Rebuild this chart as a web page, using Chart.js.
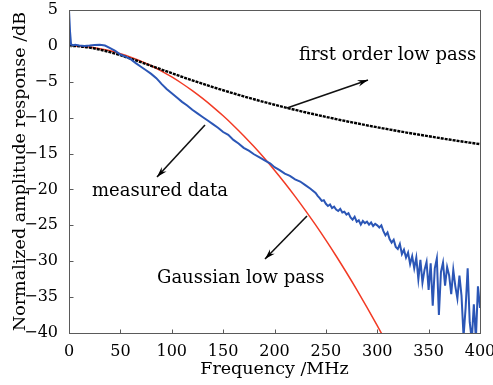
<!DOCTYPE html>
<html>
<head>
<meta charset="utf-8">
<script src="https://cdn.jsdelivr.net/npm/chart.js@4.4.1/dist/chart.umd.min.js"></script>
<style>
  html, body { margin: 0; padding: 0; background: #fff; }
  #wrap { width: 493px; height: 385px; }
</style>
</head>
<body>
<div id="wrap"><canvas id="myChart" width="493" height="385"></canvas></div>
<script>
// tick labels
var xTicks = [0, 50, 100, 150, 200, 250, 300, 350, 400];
var yTicks = [5, 0, -5, -10, -15, -20, -25, -30, -35, -40];

// first order low pass (black)
var firstFreq = [0,10,20,30,40,50,60,70,80,90,100,110,120,130,140,150,160,170,180,190,200,
  210,220,230,240,250,260,270,280,290,300,310,320,330,340,350,360,370,380,390,400];
var firstDb = [0,-0.06,-0.24,-0.52,-0.88,-1.3,-1.77,-2.27,-2.78,-3.29,-3.8,-4.31,-4.8,-5.27,-5.74,-6.18,
  -6.61,-7.03,-7.43,-7.82,-8.2,-8.56,-8.91,-9.25,-9.57,-9.89,-10.2,-10.5,-10.78,-11.07,-11.34,
  -11.6,-11.86,-12.11,-12.35,-12.59,-12.82,-13.05,-13.27,-13.48,-13.69];

// Gaussian low pass (red)
var gaussFreq = [0,10,20,30,40,50,60,70,80,90,100,110,120,130,140,150,160,170,180,190,200,
  210,220,230,240,250,260,270,280,290,300,310];
var gaussDb = [0,-0.04,-0.17,-0.39,-0.69,-1.08,-1.56,-2.12,-2.77,-3.51,-4.33,-5.24,-6.24,-7.32,-8.49,
  -9.74,-11.08,-12.51,-14.03,-15.63,-17.32,-19.1,-20.96,-22.91,-24.94,-27.06,-29.27,-31.57,-33.95,
  -36.42,-38.97,-41.61];

// measured data (blue)
var measFreq = [0,1,2,4,6,10,15,20,25,30,35,40,45,50,55,60,65,70,75,80,85,90,95,100,105,110,115,120,
  125,130,135,140,145,150,155,160,165,170,175,180,185,190,196,200,205,210,215,220,225,230,235,
  240,242,244,246,248,250,252,254,256,258,260,262,264,266,268,270,272,274,276,278,280,282,284,
  286,288,290,292,294,296,298,300,302,304,306,308,310,312,314,316,318,320,322,324,326,328,330,
  332,334,336,338,340,342,344,346,348,350,352,354,356,358,360,362,364,366,368,370,372,374,376,
  378,380,382,384,386,388,390,392,394,396,398,400];
var measDb = [5,2,0.2,0.1,0.15,0.05,0,0.05,0.12,0.15,0.05,-0.3,-0.7,-1.2,-1.5,-1.85,-2.4,-2.9,-3.4,
  -3.9,-4.5,-5.3,-6,-6.6,-7.2,-7.8,-8.3,-8.9,-9.4,-9.9,-10.4,-10.9,-11.4,-12,-12.4,-13.1,-13.6,
  -14.2,-14.6,-15.1,-15.5,-15.9,-16.4,-16.9,-17.3,-17.8,-18.1,-18.6,-18.9,-19.4,-19.9,
  -20.5,-20.9,-21.2,-21.6,-21.5,-22,-22.3,-22.1,-22.6,-22.4,-22.8,-23,-22.7,-23.2,-23.1,-23.5,
  -23.3,-23.9,-24.2,-23.8,-24.5,-24.3,-24.9,-24.4,-24.7,-24.5,-24.9,-24.6,-25.1,-24.8,-25,
  -25.3,-25,-25.8,-26.4,-26,-26.9,-27.4,-27,-28,-28.3,-27.6,-29,-28.4,-29.5,-28.8,-30.4,-29.3,
  -31,-29.5,-32.5,-29.8,-33,-31.2,-30.1,-34,-30.3,-36.2,-31,-29.6,-37.5,-31.5,-30.2,-33.4,-30.8,
  -32,-34.6,-31.2,-33.5,-35.2,-32,-34.8,-40.5,-36.5,-31,-38.5,-41,-36,-40.8,-33.5,-36.5];

function toPoints(xs, ys) {
  var pts = [];
  for (let i = 0; i < xs.length; i++) {
    pts.push({x: xs[i], y: ys[i]});
  }
  return pts;
}

var serif = "'DejaVu Serif', serif";

// frame, inside tick marks, labels and arrows
var decorations = {
  id: "decorations",
  afterDraw: function(chart) {
    var ctx = chart.ctx;
    var a = chart.chartArea;
    var xs = chart.scales.x, ys = chart.scales.y;
    var l = Math.round(a.left) + 0.5, t = Math.round(a.top) + 0.5;
    var r = Math.round(a.right) + 0.5, b = Math.round(a.bottom) + 0.5;
    ctx.save();
    ctx.setLineDash([]);
    ctx.globalAlpha = 1;
    ctx.strokeStyle = "#5a5a5a";
    ctx.lineWidth = 1;
    ctx.strokeRect(l, t, r - l, b - t);
    ctx.beginPath();
    for (let i = 0; i < xTicks.length; i++) {
      var px = Math.round(xs.getPixelForValue(xTicks[i])) + 0.5;
      ctx.moveTo(px, b);
      ctx.lineTo(px, b - 4);
    }
    for (let i = 0; i < yTicks.length; i++) {
      var py = Math.round(ys.getPixelForValue(yTicks[i])) + 0.5;
      ctx.moveTo(l, py);
      ctx.lineTo(l + 4, py);
    }
    ctx.stroke();

    ctx.fillStyle = "#000";
    ctx.font = "18px " + serif;
    ctx.textBaseline = "middle";
    ctx.textAlign = "left";
    ctx.fillText("first order low pass", 299, 55);
    ctx.fillText("measured data", 92, 191);
    ctx.fillText("Gaussian low pass", 157, 278);

    function arrow(x1, y1, x2, y2) {
      ctx.strokeStyle = "#111";
      ctx.lineWidth = 1.6;
      ctx.beginPath();
      ctx.moveTo(x1, y1);
      ctx.lineTo(x2, y2);
      ctx.stroke();
      var ang = Math.atan2(y2 - y1, x2 - x1);
      ctx.beginPath();
      ctx.moveTo(x2, y2);
      ctx.lineTo(x2 - 11 * Math.cos(ang - 0.3), y2 - 11 * Math.sin(ang - 0.3));
      ctx.lineTo(x2 - 7 * Math.cos(ang), y2 - 7 * Math.sin(ang));
      ctx.lineTo(x2 - 11 * Math.cos(ang + 0.3), y2 - 11 * Math.sin(ang + 0.3));
      ctx.closePath();
      ctx.fill();
    }
    arrow(287, 108, 368, 80);
    arrow(205, 125, 157, 177);
    arrow(307, 216, 265, 259);
    ctx.restore();
  }
};

new Chart("myChart", {
  type: "line",
  data: {
    datasets: [{
      label: "measured data",
      data: toPoints(measFreq, measDb),
      borderColor: "#2b56b6",
      borderWidth: 2,
      pointRadius: 0,
      tension: 0
    }, {
      label: "first order low pass",
      data: toPoints(firstFreq, firstDb),
      borderColor: "#000",
      borderWidth: 2.4,
      borderDash: [3, 1],
      pointRadius: 0,
      cubicInterpolationMode: "monotone"
    }, {
      label: "Gaussian low pass",
      data: toPoints(gaussFreq, gaussDb),
      borderColor: "#f23a24",
      borderWidth: 1.5,
      pointRadius: 0,
      cubicInterpolationMode: "monotone"
    }]
  },
  options: {
    responsive: false,
    animation: false,
    layout: { padding: { left: 0, right: 13, top: 10, bottom: 5 } },
    plugins: { legend: { display: false }, tooltip: { enabled: false } },
    scales: {
      x: {
        type: "linear",
        min: 0,
        max: 400,
        afterFit: function(scale) {
          scale.height = 47;
          scale.paddingLeft = 0;
          scale.paddingRight = 0;
        },
        afterBuildTicks: function(scale) {
          scale.ticks = xTicks.map(function(v) { return {value: v}; });
        },
        grid: { display: false },
        border: { display: false },
        ticks: { color: "#000", font: { family: serif, size: 16 }, padding: 1, maxRotation: 0 },
        title: { display: true, text: "Frequency /MHz", color: "#000",
          font: { family: serif, size: 17.5 }, padding: { top: 0, bottom: 0 } }
      },
      y: {
        min: -40,
        max: 5,
        afterFit: function(scale) {
          scale.width = 69;
          scale.paddingTop = 0;
          scale.paddingBottom = 0;
        },
        afterBuildTicks: function(scale) {
          scale.ticks = yTicks.map(function(v) { return {value: v}; });
        },
        grid: { display: false },
        border: { display: false },
        ticks: {
          color: "#000", font: { family: serif, size: 16 }, padding: 3,
          callback: function(v) { return v < 0 ? "\u2212" + Math.abs(v) : String(v); }
        },
        title: { display: true, text: "Normalized amplitude response /dB", color: "#000",
          font: { family: serif, size: 17.5 }, padding: { top: 10, bottom: 0 } }
      }
    }
  },
  plugins: [decorations]
});
</script>
</body>
</html>
